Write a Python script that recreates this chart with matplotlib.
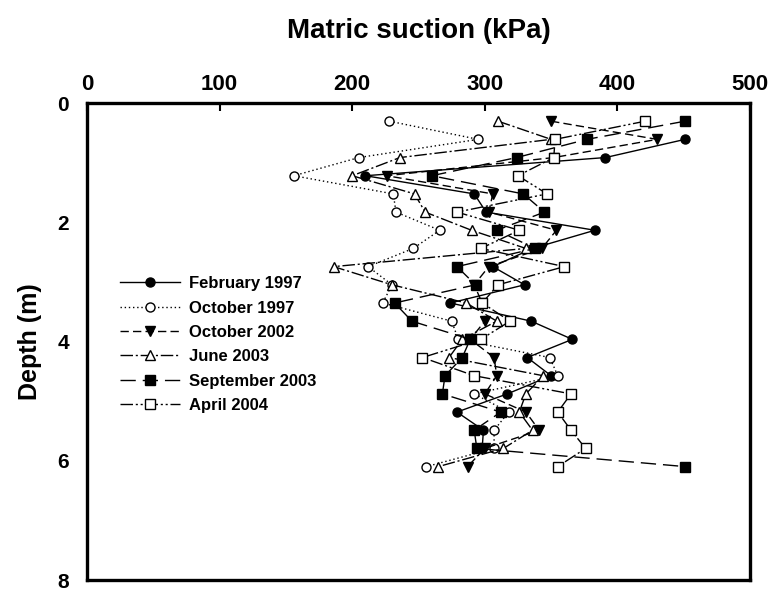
import numpy as np
import matplotlib
matplotlib.use("Agg")
import matplotlib.pyplot as plt

plt.rcParams['font.family'] = ['Liberation Sans', 'DejaVu Sans']

nan = np.nan
depth = [k * 0.3048 for k in range(1, 21)]

feb97 = [nan, 451, 391, 210, 292, 301, 383, 336, 306, 330, 274, 335, 366, 332, 350, 317, 279, 299, 298, nan]
oct97 = [228, 295, 205, 156, 231, 233, 266, 246, 212, 230, 223, 275, 280, 349, 355, 292, 318, 307, 307, 256]
oct02 = [350, 430, 352, 226, 306, 303, 354, 343, 303, 292, 298, 300, 289, 307, 309, 300, 331, 341, 300, 287]
jun03 = [310, 350, 236, 200, 247, 255, 290, 331, 186, 230, 286, 309, 283, 273, 344, 331, 326, 336, 314, 265]
sep03 = [451, 377, 324, 260, 329, 345, 309, 338, 279, 293, 232, 245, 289, 283, 270, 268, 312, 292, 294, 451]
apr04 = [421, 353, 352, 325, 347, 279, 326, 297, 360, 310, 298, 319, 297, 253, 292, 365, 355, 365, 376, 355]

labels = ['February 1997', 'October 1997', 'October 2002', 'June 2003', 'September 2003', 'April 2004']
series = [feb97, oct97, oct02, jun03, sep03, apr04]
markers = ['o', 'o', 'v', '^', 's', 's']
filled = [True, False, True, False, True, False]
styles = ['-', (0, (1, 2)), (0, (6, 3)), (0, (9, 2, 1.5, 2)), (0, (11, 5)), (0, (9, 2, 1.5, 2, 1.5, 2))]

fig = plt.figure(figsize=(7.74, 5.92), dpi=100)
ax = fig.add_axes([0.1124, 0.0200, 0.8566, 0.8060])

for vals, lab, m, f, ls in zip(series, labels, markers, filled, styles):
    v = np.array(vals, dtype=float)
    d = np.array(depth)
    ok = ~np.isnan(v)
    ax.plot(v[ok], d[ok], linestyle=ls, color='black', linewidth=1.0,
            marker=m, markersize=7.5 if m in ('v', '^') else 6.5,
            markerfacecolor='black' if f else 'white', markeredgecolor='black',
            markeredgewidth=1.0, label=lab)

ax.set_xlim(0, 500)
ax.set_ylim(8, 0)
ax.set_xticks([0, 100, 200, 300, 400, 500])
ax.set_yticks([0, 2, 4, 6, 8])
ax.xaxis.tick_top()
ax.xaxis.set_label_position('top')
ax.tick_params(axis='x', direction='in', length=6, width=1.5, labelsize=16, pad=6)
ax.tick_params(axis='y', direction='in', length=0, labelsize=15, pad=13)
for lbl in ax.get_xticklabels() + ax.get_yticklabels():
    lbl.set_fontweight('bold')
for sp in ax.spines.values():
    sp.set_linewidth(2.4)

ax.set_xlabel('Matric suction (kPa)', fontsize=20, fontweight='bold', labelpad=26)
ax.set_ylabel('Depth (m)', fontsize=18, fontweight='bold', labelpad=11)

leg = ax.legend(loc='upper left', bbox_to_anchor=(0.03, 0.665), frameon=False,
                handlelength=3.6, labelspacing=0.56, handletextpad=0.55,
                borderpad=0.3, prop={'weight': 'bold', 'size': 12})

fig.savefig('out.png', dpi=100)
